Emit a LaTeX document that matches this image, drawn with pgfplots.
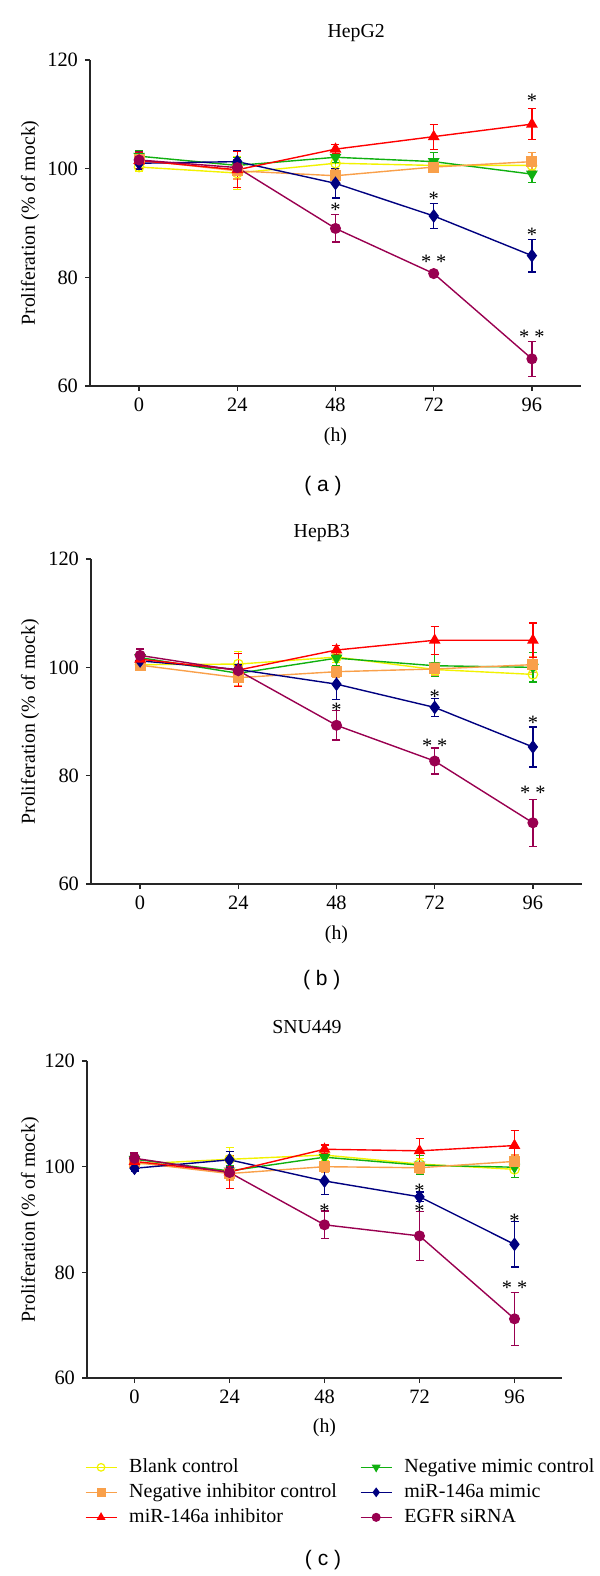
\documentclass[border=0pt]{standalone}
\usepackage{fontspec}
\setmainfont{Liberation Serif}
\newfontfamily\sansf{Liberation Sans}
\usepackage{pgfplots}
\pgfplotsset{compat=1.18}

\definecolor{cYel}{HTML}{F2F200}
\definecolor{cOra}{HTML}{F9A04A}
\definecolor{cRed}{HTML}{FF0000}
\definecolor{cGrn}{HTML}{10B010}
\definecolor{cNav}{HTML}{000080}
\definecolor{cPur}{HTML}{990050}

\pgfplotsset{
 panel/.style={
  scale only axis,
  xmin=-12, xmax=108, ymin=60, ymax=120,
  axis lines=left, axis line style={-, line width=0.7pt, black!85},
  xtick={0,24,48,72,96}, ytick={60,80,100,120},
  tick align=outside, major tick length=2.5pt,
  every tick/.style={line width=0.7pt, black!85},
  tick label style={font=\fontsize{10.2}{12}\selectfont},
  /pgf/number format/assume math mode=true,
  xlabel={(h)}, ylabel={Proliferation (\% of mock)},
  label style={font=\fontsize{9.9}{12}\selectfont},
  xlabel style={anchor=center},
  ylabel style={anchor=center},
  title style={font=\fontsize{9.9}{12}\selectfont, anchor=center},
  clip=false,
 },
 eb/.style={line width=0.7pt, mark size=2.4pt,
  error bars/y dir=both, error bars/y explicit,
  error bars/error bar style={line width=0.6pt},
  error bars/error mark options={rotate=90, mark size=2pt, line width=0.6pt}},
 sYel/.style={eb, color=cYel, mark=o, mark options={fill=white, line width=0.6pt}},
 sOra/.style={eb, color=cOra, mark=square*},
 sRed/.style={eb, color=cRed, mark=triangle*, mark size=2.7pt},
 sGrn/.style={eb, color=cGrn, mark=triangle*, mark size=2.7pt, mark options={rotate=180}},
 sNav/.style={eb, color=cNav, mark=diamond*, mark size=2.9pt},
 sPur/.style={eb, color=cPur, mark=*},
 stars/.style={only marks, mark=text, text mark={},
  point meta=explicit symbolic, nodes near coords={\pgfplotspointmeta},
  nodes near coords style={anchor=center, inner sep=0pt, font=\fontsize{10.2}{12}\selectfont, black},
  forget plot},
}

\begin{document}
\begin{tikzpicture}
\useasboundingbox (0,0) rectangle (300pt,-788pt);

% ---------------- (a) HepG2 ----------------
\begin{axis}[panel, width=245.5pt, height=163pt, at={(45pt,-193pt)}, anchor=south west,
  xlabel style={at={(axis description cs:0.5,-0.156)}},
  ylabel style={at={(axis description cs:-0.122,0.5)}},
  title={HepG2}, title style={at={(axis description cs:0.542,1)}, yshift=7.5pt}]
\addplot[sYel] coordinates {(0,100.3)+-(0,0.8) (24,99.2)+-(0,3.0) (48,101.0)+-(0,1.0) (72,100.6)+-(0,1.0) (96,100.6)+-(0,1.5)};
\addplot[sGrn] coordinates {(0,102.3)+-(0,1.0) (24,100.6)+-(0,1.5) (48,102.1)+-(0,1.0) (72,101.3)+-(0,1.7) (96,99.0)+-(0,1.6)};
\addplot[sOra] coordinates {(0,101.6)+-(0,1.0) (24,99.6)+-(0,1.5) (48,98.7)+-(0,1.2) (72,100.3)+-(0,0.8) (96,101.3)+-(0,1.7)};
\addplot[sNav] coordinates {(0,101.0)+-(0,1.2) (24,101.3)+-(0,2.0) (48,97.3)+-(0,2.7) (72,91.3)+-(0,2.3) (96,84.0)+-(0,3.0)};
\addplot[sRed] coordinates {(0,101.5)+-(0,1.5) (24,99.8)+-(0,3.3) (48,103.6)+-(0,0.8) (72,105.9)+-(0,2.3) (96,108.2)+-(0,2.9)};
\addplot[sPur] coordinates {(0,101.6)+-(0,1.5) (24,100.2)+-(0,1.5) (48,89.0)+-(0,2.5) (72,80.7)+-(0,0.6) (96,65.0)+-(0,3.2)};
\addplot[stars] coordinates {(48,92.4)[*] (72,94.5)[*] (72,82.8)[{*\hspace{2.5pt}*}] (96,112.4)[*] (96,87.8)[*] (96,69.1)[{*\hspace{2.5pt}*}]};
\node[font=\sansf\fontsize{10.5}{12}\selectfont] at (axis description cs:0.4745,-0.306) {( a )};
\end{axis}

% ---------------- (b) HepB3 ----------------
\begin{axis}[panel, width=245.5pt, height=162.5pt, at={(45.5pt,-442pt)}, anchor=south west,
  xlabel style={at={(axis description cs:0.5,-0.156)}},
  ylabel style={at={(axis description cs:-0.124,0.5)}},
  title={HepB3}, title style={at={(axis description cs:0.470,1)}, yshift=7pt}]
\addplot[sYel] coordinates {(0,100.5)+-(0,0.8) (24,100.6)+-(0,2.3) (48,101.9)+-(0,1.0) (72,99.6)+-(0,1.0) (96,98.7)+-(0,1.5)};
\addplot[sGrn] coordinates {(0,101.8)+-(0,1.0) (24,98.9)+-(0,1.0) (48,101.7)+-(0,1.4) (72,100.3)+-(0,2.0) (96,100.0)+-(0,2.7)};
\addplot[sOra] coordinates {(0,100.4)+-(0,0.8) (24,98.1)+-(0,1.5) (48,99.2)+-(0,1.0) (72,99.7)+-(0,1.2) (96,100.5)+-(0,1.4)};
\addplot[sNav] coordinates {(0,101.2)+-(0,1.0) (24,99.6)+-(0,1.0) (48,96.9)+-(0,2.8) (72,92.6)+-(0,1.7) (96,85.3)+-(0,3.7)};
\addplot[sRed] coordinates {(0,101.5)+-(0,1.2) (24,99.5)+-(0,3.0) (48,103.2)+-(0,0.9) (72,105.0)+-(0,2.6) (96,105.0)+-(0,3.2)};
\addplot[sPur] coordinates {(0,102.2)+-(0,1.2) (24,99.4)+-(0,1.0) (48,89.3)+-(0,2.7) (72,82.7)+-(0,2.4) (96,71.3)+-(0,4.3)};
\addplot[stars] coordinates {(48,92.1)[*] (72,94.5)[*] (72,85.5)[{*\hspace{2.5pt}*}] (96,89.8)[*] (96,76.8)[{*\hspace{2.5pt}*}]};
\node[font=\sansf\fontsize{10.5}{12}\selectfont] at (axis description cs:0.47,-0.295) {( b )};
\end{axis}

% ---------------- (c) SNU449 ----------------
\begin{axis}[panel, width=237.5pt, height=158.5pt, at={(43.5pt,-689pt)}, anchor=south west,
  xlabel style={at={(axis description cs:0.5,-0.158)}},
  ylabel style={at={(axis description cs:-0.12,0.5)}},
  title={SNU449}, title style={at={(axis description cs:0.463,1)}, yshift=11pt},
  legend columns=2, legend cell align=left,
  legend style={at={(axis description cs:-0.018,-0.230)}, anchor=north west,
    draw=none, fill=none, font=\fontsize{10}{12}\selectfont,
    /tikz/every odd column/.append style={column sep=4.5pt},
    /tikz/every even column/.append style={column sep=10pt},
    row sep=0.5pt, nodes={inner sep=1.5pt, text height=7pt, text depth=2pt}},
  legend image code/.code={\draw[mark repeat=2, mark phase=2, mark size=1.9pt] plot coordinates {(0pt,0pt) (7.75pt,0pt) (15.5pt,0pt)};}]
\addplot[sYel] coordinates {(0,100.5)+-(0,0.8) (24,101.4)+-(0,2.3) (48,102.2)+-(0,1.0) (72,100.5)+-(0,1.0) (96,99.5)+-(0,1.5)};
\addlegendentry{Blank control}
\addplot[sGrn] coordinates {(0,101.4)+-(0,0.8) (24,99.2)+-(0,1.0) (48,101.8)+-(0,1.0) (72,100.3)+-(0,1.8) (96,99.9)+-(0,2.0)};
\addlegendentry{Negative mimic control}
\addplot[sOra] coordinates {(0,100.8)+-(0,0.8) (24,98.7)+-(0,1.2) (48,100.0)+-(0,1.0) (72,99.8)+-(0,1.0) (96,101.0)+-(0,1.2)};
\addlegendentry{Negative inhibitor control}
\addplot[sNav] coordinates {(0,99.7)+-(0,0.5) (24,101.3)+-(0,1.5) (48,97.3)+-(0,2.5) (72,94.3)+-(0,0.9) (96,85.3)+-(0,4.3)};
\addlegendentry{miR-146a mimic}
\addplot[sRed] coordinates {(0,101.0)+-(0,1.0) (24,99.0)+-(0,3.1) (48,103.3)+-(0,0.8) (72,103.0)+-(0,2.3) (96,104.0)+-(0,2.9)};
\addlegendentry{miR-146a inhibitor}
\addplot[sPur] coordinates {(0,101.6)+-(0,1.0) (24,98.9)+-(0,1.2) (48,89.0)+-(0,2.6) (72,86.9)+-(0,4.6) (96,71.2)+-(0,5.0)};
\addlegendentry{EGFR siRNA}
\addplot[stars] coordinates {(48,91.6)[*] (72,95.4)[*] (72,91.7)[*] (96,89.8)[*] (96,77.0)[{*\hspace{2.5pt}*}]};
\node[font=\sansf\fontsize{10.5}{12}\selectfont] at (axis description cs:0.497,-0.574) {( c )};
\end{axis}
\end{tikzpicture}
\end{document}
